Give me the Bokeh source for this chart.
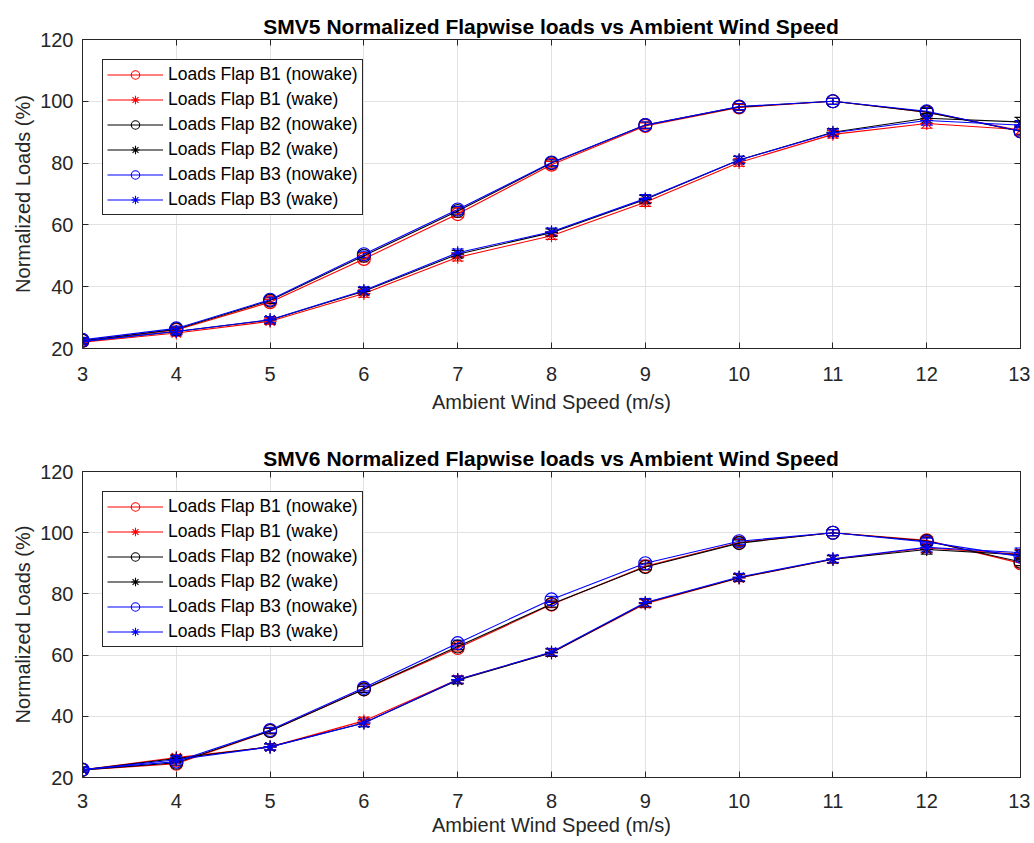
from bokeh.plotting import figure
from bokeh.models import (ColumnDataSource, Whisker, TeeHead, Legend, LegendItem,
                          LinearAxis, FixedTicker, Range1d)
from bokeh.layouts import column
from bokeh.embed import file_html
from bokeh.resources import INLINE

# ---------------- data ----------------
wind = [3, 4, 5, 6, 7, 8, 9, 10, 11, 12, 13]
x_ticks = [3, 4, 5, 6, 7, 8, 9, 10, 11, 12, 13]
y_ticks = [20, 40, 60, 80, 100, 120]

series_names = ["Loads Flap B1 (nowake)", "Loads Flap B1 (wake)",
                "Loads Flap B2 (nowake)", "Loads Flap B2 (wake)",
                "Loads Flap B3 (nowake)", "Loads Flap B3 (wake)"]
series_colors = ["#ff0000", "#ff0000", "#000000", "#000000", "#0000ff", "#0000ff"]
series_markers = ["circle", "asterisk", "circle", "asterisk", "circle", "asterisk"]

# SMV5
smv5_b1_nowake = [22.5, 26.0, 35.0, 49.0, 63.5, 79.5, 92.0, 98.0, 100.0, 96.5, 90.5]
smv5_b1_wake   = [22.0, 25.0, 28.8, 37.8, 49.5, 56.5, 67.3, 80.2, 89.3, 92.8, 90.8]
smv5_b2_nowake = [22.5, 26.2, 35.5, 50.0, 64.5, 80.0, 92.3, 98.2, 100.0, 96.5, 90.3]
smv5_b2_wake   = [22.3, 25.5, 29.2, 38.5, 50.5, 57.5, 68.2, 81.0, 90.0, 94.5, 93.3]
smv5_b3_nowake = [22.8, 26.5, 35.8, 50.5, 65.0, 80.2, 92.3, 98.3, 100.0, 96.8, 90.3]
smv5_b3_wake   = [22.3, 25.5, 29.3, 38.8, 51.0, 57.8, 68.5, 81.0, 89.8, 93.8, 92.3]
smv5_err_nowake = [0.8, 0.8, 0.9, 1.0, 1.0, 1.0, 1.0, 1.0, 1.0, 1.2, 1.2]
smv5_err_wake   = [0.8, 0.9, 1.0, 1.2, 1.2, 1.2, 1.3, 1.2, 1.2, 1.5, 1.5]

# SMV6
smv6_b1_nowake = [22.5, 24.5, 35.2, 48.8, 62.3, 76.5, 89.0, 96.8, 100.0, 97.5, 90.0]
smv6_b1_wake   = [22.5, 26.5, 30.0, 38.5, 52.0, 60.8, 76.8, 85.2, 91.3, 95.0, 93.0]
smv6_b2_nowake = [22.5, 24.8, 35.2, 48.8, 62.8, 76.7, 88.8, 96.6, 100.0, 97.3, 90.5]
smv6_b2_wake   = [22.5, 26.2, 30.0, 37.8, 51.8, 60.8, 77.0, 85.3, 91.3, 94.5, 92.8]
smv6_b3_nowake = [22.6, 25.2, 35.5, 49.3, 63.9, 78.2, 90.0, 97.2, 100.0, 97.0, 92.2]
smv6_b3_wake   = [22.5, 25.8, 30.0, 37.8, 52.0, 61.0, 77.2, 85.5, 91.5, 95.2, 93.5]
smv6_err_nowake = [0.8, 0.8, 0.9, 1.0, 1.0, 1.0, 1.0, 1.0, 1.0, 1.2, 1.2]
smv6_err_wake   = [0.8, 1.0, 1.0, 1.2, 1.2, 1.2, 1.3, 1.2, 1.2, 1.5, 1.5]

FONT = "Liberation Sans"
TXT = "#262626"


def make_fig(title, values, errs, height, border_top, border_bottom,
             xlabel_standoff, xaxis_label_standoff):
    p = figure(width=1030, height=height, output_backend="svg", toolbar_location=None,
               x_range=Range1d(3, 13), y_range=Range1d(20, 120),
               min_border_left=82, min_border_right=10,
               min_border_top=border_top, min_border_bottom=border_bottom,
               x_axis_label="Ambient Wind Speed (m/s)",
               y_axis_label="Normalized Loads (%)")
    p.title.text = title
    p.title.align = "center"
    p.title.text_font = FONT
    p.title.text_font_size = "21px"
    p.title.text_font_style = "bold"
    p.title.text_color = "#000000"
    p.title.standoff = 4
    p.outline_line_color = TXT
    p.outline_line_width = 1
    p.outline_line_alpha = 1

    p.xaxis.ticker = FixedTicker(ticks=x_ticks)
    p.yaxis.ticker = FixedTicker(ticks=y_ticks)
    for ax in (p.xaxis, p.yaxis):
        ax.major_label_text_font = FONT
        ax.major_label_text_font_size = "20px"
        ax.major_label_text_color = TXT
        ax.axis_label_text_font = FONT
        ax.axis_label_text_font_size = "20px"
        ax.axis_label_text_font_style = "normal"
        ax.axis_label_text_color = TXT
        ax.axis_line_color = TXT
        ax.major_tick_line_color = TXT
        ax.major_tick_in = 6
        ax.major_tick_out = 0
        ax.minor_tick_line_color = None
    p.xaxis.major_label_standoff = xlabel_standoff
    p.xaxis.axis_label_standoff = xaxis_label_standoff
    p.yaxis.major_label_standoff = 9
    p.yaxis.axis_label_standoff = 3

    # box ticks on the top and right edges (no labels: minor ticks only)
    for loc, ticks in (("above", x_ticks), ("right", y_ticks)):
        ax = LinearAxis(ticker=FixedTicker(ticks=[], minor_ticks=ticks),
                        major_tick_line_color=None, minor_tick_in=6, minor_tick_out=0,
                        minor_tick_line_color=TXT, axis_line_color=TXT,
                        major_label_standoff=0)
        p.add_layout(ax, loc)

    p.xgrid.grid_line_color = "#e2e2e2"
    p.ygrid.grid_line_color = "#e2e2e2"
    p.xgrid.ticker = FixedTicker(ticks=x_ticks)
    p.ygrid.ticker = FixedTicker(ticks=y_ticks)

    items = []
    for name, vals, err, color, marker in zip(series_names, values, errs,
                                               series_colors, series_markers):
        src = ColumnDataSource(dict(x=wind, y=vals,
                                    lo=[v - e for v, e in zip(vals, err)],
                                    hi=[v + e for v, e in zip(vals, err)]))
        r_line = p.line("x", "y", source=src, line_color=color, line_width=1.1)
        w = Whisker(source=src, base="x", upper="hi", lower="lo", dimension="height",
                    line_color=color, line_width=1.1,
                    upper_head=TeeHead(size=12, line_color=color, line_width=1.1),
                    lower_head=TeeHead(size=12, line_color=color, line_width=1.1))
        p.add_layout(w)
        r_mark = p.scatter("x", "y", source=src, marker=marker, size=13,
                           line_color=color, fill_color=None, line_width=1.1)
        items.append(LegendItem(label=name, renderers=[r_line, r_mark]))

    leg = Legend(items=items, location="top_left", margin=20, padding=4,
                 spacing=4, label_standoff=5, glyph_width=56, glyph_height=21,
                 label_height=21, label_text_font=FONT, label_text_font_size="17.5px",
                 label_text_color="#000000", border_line_color=TXT, border_line_width=1,
                 border_line_alpha=1, background_fill_alpha=1)
    p.add_layout(leg, "center")
    return p


errs = [smv5_err_nowake, smv5_err_wake] * 3
p1 = make_fig("SMV5 Normalized Flapwise loads vs Ambient Wind Speed",
              [smv5_b1_nowake, smv5_b1_wake, smv5_b2_nowake, smv5_b2_wake,
               smv5_b3_nowake, smv5_b3_wake], errs, 428, 39, 80, 18, 7)
errs6 = [smv6_err_nowake, smv6_err_wake] * 3
p2 = make_fig("SMV6 Normalized Flapwise loads vs Ambient Wind Speed",
              [smv6_b1_nowake, smv6_b1_wake, smv6_b2_nowake, smv6_b2_wake,
               smv6_b3_nowake, smv6_b3_wake], errs6, 413, 43, 64, 16, 3)

layout = column(p1, p2, spacing=0)
open("out.html", "w").write(file_html(layout, INLINE))
